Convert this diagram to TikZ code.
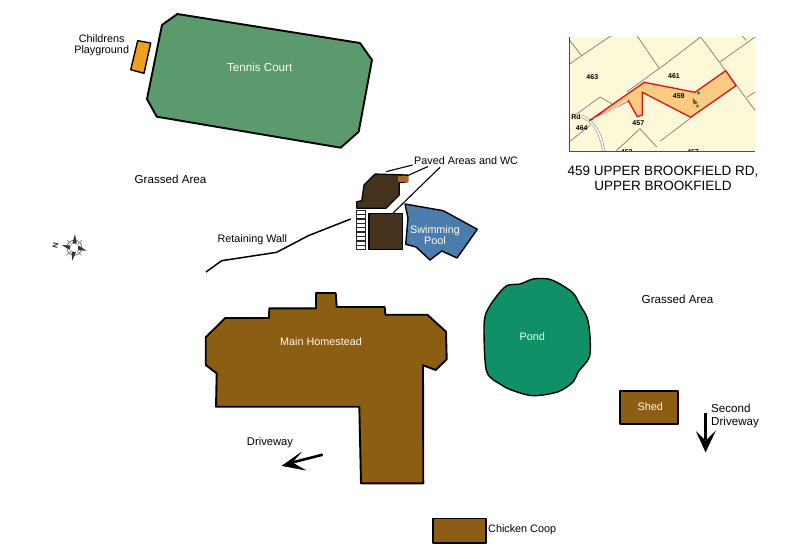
\documentclass[tikz,border=0pt]{standalone}
\usepackage{fontspec}
\setmainfont{Liberation Sans}
\definecolor{court}{HTML}{5A9A6C}
\definecolor{play}{HTML}{F0A01E}
\definecolor{house}{HTML}{8B5E14}
\definecolor{pondc}{HTML}{109068}
\definecolor{poolc}{HTML}{4A7DAE}
\definecolor{darkb}{HTML}{44321C}
\definecolor{smallb}{HTML}{A8691F}
\definecolor{cream}{HTML}{FDF8D8}
\definecolor{parcel}{HTML}{F9CC80}
\definecolor{plot}{HTML}{8A8A78}
\definecolor{redl}{HTML}{D8141E}
\tikzset{
  bld/.style={draw=black,line width=1.9pt,line join=round},
  lab/.style={font=\fontsize{10.8}{11.7}\selectfont,text=black,inner sep=0pt,align=center},
  biglab/.style={lab,font=\fontsize{11.6}{13}\selectfont},
  wlab/.style={lab,text=white!92!yellow},
  leader/.style={draw=black,line width=1.1pt},
  bigarrow/.style={fill=black,draw=black,line width=0.5pt,line join=miter},
  lot/.style={draw=plot,line width=0.8pt},
  lotnum/.style={font=\fontsize{7}{7.5}\selectfont\bfseries,text=black,inner sep=0pt},
  title/.style={font=\fontsize{13.5}{15}\selectfont,inner sep=0pt,align=center}
}
\begin{document}
\begin{tikzpicture}[x=1pt,y=-1pt]
\useasboundingbox (0,0) rectangle (800,559);
\fill[white] (0,0) rectangle (800,559);

% tennis court
\path[bld,fill=court] (177.3,14)--(360,43)--(372,60)--(358.7,131.7)--(340.7,147.7)--(156.7,116.7)--(147,99)--(162,25)--cycle;
\path[bld,fill=play,line width=1.4pt] (137.7,40.7)--(150.7,43)--(144,73.3)--(130.7,69.7)--cycle;

% main house
\path[bld,fill=house] (316,293)--(335.7,293)--(336.7,307)--(384.7,307)--(385.3,314.7)--(427.3,314.7)--(446,331.7)--(446.7,359.3)--(435.7,370)--(423,365.3)--(423.3,483.3)--(361,483.3)--(359.3,406.7)--(216,406.7)--(216.7,373.3)--(205.7,365)--(205.7,337.3)--(225.3,318)--(269,318)--(269.3,308.3)--(316,308.3)--cycle;

% pond
\path[bld,fill=pondc,line width=1.4pt] plot[smooth cycle,tension=0.5] coordinates {(520,284)(533.3,279)(548.3,279)(560,284)(573.3,293.3)(580,305)(587.3,318.3)(590,336.7)(589.3,357.3)(578.3,371.7)(573.3,381.7)(558.3,391.7)(533.3,395.7)(513.3,390.7)(501.7,385)(486.7,371.7)(484,330)(486,313.3)(495,298.3)(506.7,285.7)};

% shed, coop
\path[bld,fill=house] (619.7,391.3) rectangle (678.3,423.7);
\path[bld,fill=house] (433,518.5) rectangle (486,543);

% pool area
\path[bld,fill=poolc,line width=1.4pt] (405,204)--(443.3,210.7)--(477.3,229.3)--(457,258)--(441.7,251)--(430,260)--(416,247)--(405.7,244.3)--(408,218)--cycle;
\path[bld,fill=darkb,line width=1.2pt] (375,174)--(407.8,175)--(407.8,181.7)--(399.3,182.7)--(399.3,195)--(386,208.3)--(356.7,208.3)--(356.7,201.7)--(361.7,200.7)--(364,185)--cycle;
\fill[smallb] (398.3,176.2) rectangle (407.6,181.6);
\path[bld,fill=darkb,line width=1.4pt] (369,213.3) rectangle (402.3,249.3);

% stairs
\draw[black!85,line width=1pt,fill=white] (356.9,210) rectangle (365,249.3);
\foreach \yy in {214.4,218.8,223.2,227.6,232,236.4,240.8,245.2}
  \draw[black!85,line width=1.4pt] (356.9,\yy)--(365,\yy);

% labels
\node[lab] (lplay) at (101.7,45.2) {Childrens\\Playground};
\node[biglab,text=white!92!yellow] (lcourt) at (259.7,67.3) {Tennis Court};
\node[lab,anchor=west] (lpaved) at (414,160.6) {Paved Areas and WC};
\node[biglab] (lgrass1) at (170.5,178.9) {Grassed Area};
\node[biglab] (lgrass2) at (677.5,298.9) {Grassed Area};
\node[lab] (lwall) at (252.3,239.5) {Retaining Wall};
\node[wlab] (lpool) at (435,235.2) {Swimming\\Pool};
\node[wlab] (lhouse) at (321,341.8) {Main Homestead};
\node[wlab] (lpond) at (532.3,336.2) {Pond};
\node[wlab] (lshed) at (650.3,406.8) {Shed};
\node[biglab,align=left,anchor=west] (lsecond) at (711,416) {Second\\Driveway};
\node[lab,font=\fontsize{11.2}{12}\selectfont] (ldrive) at (270,442.5) {Driveway};
\node[lab,anchor=west] (lcoop) at (488,530) {Chicken Coop};

% leader lines
\coordinate (pa) at (386,171.7); \coordinate (pb) at (412.5,165);
\coordinate (pc) at (407.5,175.7); \coordinate (pd) at (428,166.5);
\coordinate (pe) at (393,213); \coordinate (pf) at (440,167.3);
\draw[leader] (pa)--(pb);
\draw[leader] (pc)--(pd);
\draw[leader] (pe)--(pf);
\coordinate (w0) at (206,272); \coordinate (w1) at (221.7,260.7); \coordinate (w2) at (276.7,252.3); \coordinate (w3) at (308.3,235.7); \coordinate (w4) at (350.7,219);
\draw[leader,line width=1.5pt,line join=round] (w0)--(w1)--(w2)--(w3)--(w4);

% driveway arrows
\coordinate (d0) at (322.7,454.7); \coordinate (d1) at (290,463);
\draw[black,line width=2.6pt] (d0)--(d1);
\path[bigarrow] (282.3,465.7)--(300.7,452.7)--(292,462.5)--(305,470)--cycle;
\coordinate (s0) at (705.5,413); \coordinate (s1) at (705.5,440);
\draw[black,line width=3pt] (s0)--(s1);
\path[bigarrow] (705.6,451.7)--(696.7,432.3)--(705.6,441)--(715,431.7)--cycle;

% compass
\begin{scope}
\draw[black!60,line width=0.7pt] (74.3,247.7) circle (7.5);
\fill[black!80] (75,234)--(76.8,243.5)--(72.3,243.5)--cycle;
\fill[black!80] (72.3,260.7)--(71.5,251.5)--(76,252)--cycle;
\fill[black!80] (61.7,245)--(70.5,245.5)--(69.8,249.8)--cycle;
\fill[black!80] (86.7,250.7)--(78.3,245.5)--(77.8,250.2)--cycle;
\draw[black!50,line width=0.6pt] (67,240)--(81.5,255.5) (82,240)--(66.5,255.5);
\fill[white] (74.3,247.7) circle (3.6);
\node[font=\fontsize{7.5}{8}\selectfont\bfseries,inner sep=0pt,rotate=-100,text=black!85] (compassN) at (55.5,245.5) {N};
\end{scope}

% locality inset
\fill[cream] (569,37) rectangle (755.5,151);
\begin{scope}
\clip (569,37) rectangle (755.5,151);
\draw[lot] (569,64.3)--(611.7,35.3);
\draw[lot] (569,39.3)--(581.7,56);
\draw[lot] (636.7,35.3)--(659,68);
\draw[lot] (626.7,92)--(665,64.3)--(700.7,37);
\draw[lot] (700.7,37)--(755,110.3);
\draw[lot] (720,62)--(755,37);
\draw[lot] (741.7,35.3)--(746,40.3);
\draw[lot] (747.3,97)--(755,92);
\draw[lot] (660,141.3)--(690.7,118);
\draw[lot] (575,115.3)--(600,97)--(611.7,103.7);
\draw[lot] (570,141.3)--(590,125.3);
\draw[lot] (615,152)--(640,128.7)--(656.7,147);
\draw[plot!80,line width=3pt] (581,116) .. controls (596,122) and (601,135) .. (604,153);
\draw[white,line width=1.6pt] (581,116) .. controls (596,122) and (601,135) .. (604,153);
\node[lotnum] (n453) at (626.7,152.5) {453};
\node[lotnum] (n455) at (693,152.5) {457};
\end{scope}
\path[fill=parcel,draw=redl,line width=1.3pt,line join=miter] (589.3,120.7)--(644.3,82.3)--(695,92.3)--(725.7,70.7)--(736,85.7)--(690.7,117.3)--(642.3,92.3)--(642.3,115)--(637.3,116.7)--(628.3,100.7)--cycle;
\draw[white,line width=0.9pt] (593,119.5)--(628,100.2);
\draw[black!70,line width=1pt] (569,37)--(569,151);
\draw[black!70,line width=0.8pt] (569,151)--(755,151);
\node[lotnum] (n463) at (592.3,77.3) {463};
\node[lotnum] (n461) at (674,75.7) {461};
\node[lotnum] (n459) at (678.7,96.3) {459};
\node[lotnum] (n457) at (638.3,122.7) {457};
\node[lotnum] (nrd) at (576,117.3) {Rd};
\node[lotnum] (n464) at (581.7,127.7) {464};
\fill[green!50!black!80] (698.5,93) circle (1.8) (697.3,106) circle (1.7);
\fill[brown!70!black] (692.5,98)--(698,103)--(693.5,104.5)--cycle;

% title
\node[title] (ltitle) at (663,178.5) {459 UPPER BROOKFIELD RD,\\UPPER BROOKFIELD};
\end{tikzpicture}
\end{document}
